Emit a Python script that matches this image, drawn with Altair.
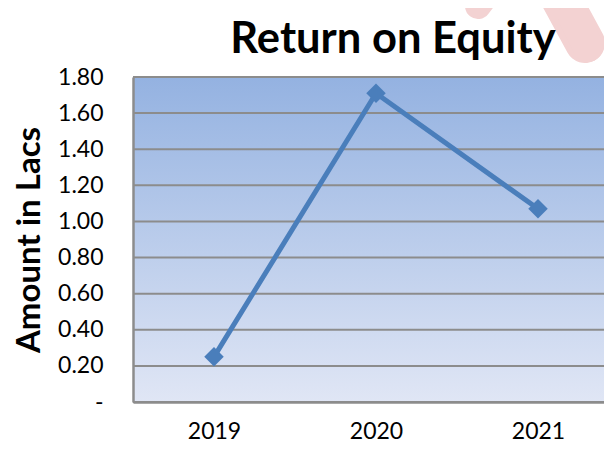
import altair as alt
import pandas as pd

years = ["2019", "2020", "2021"]
roe = [0.25, 1.71, 1.07]
y_ticks = [0.0, 0.2, 0.4, 0.6, 0.8, 1.0, 1.2, 1.4, 1.6, 1.8]
title_text = "Return on Equity"

W, H = 471, 325
FONT = "Lato"
GRID = "#8c8c8c"

df = pd.DataFrame({"year": years, "value": roe})
grid_df = pd.DataFrame({"t": y_ticks})

y_scale = alt.Scale(domain=[0, 1.8], nice=False, zero=True)

y_axis = alt.Axis(title="Amount in Lacs", values=y_ticks,
                  labelExpr="datum.value == 0 ? '-\u00a0\u00a0' : format(datum.value, '.2f')",
                  labelFontSize=23, labelFont=FONT, labelColor="#000000",
                  labelPadding=30, ticks=False, domain=True,
                  domainColor=GRID, domainWidth=2.5, grid=False, zindex=1,
                  titleFont=FONT, titleFontSize=33, titleFontWeight="bold",
                  titleColor="#000000", titleX=-104, titleY=H / 2,
                  titleBaseline="middle", titleAngle=-90, titleAlign="center")

x_enc = alt.X("year:O", scale=alt.Scale(range=[0, 486], padding=0.5),
              axis=alt.Axis(title=None, labelAngle=0, labelFontSize=23, labelFont=FONT,
                            labelColor="#000000", labelPadding=18, ticks=False,
                            domain=True, domainColor=GRID, domainWidth=2.5, zindex=1))
y_enc = alt.Y("value:Q", scale=y_scale, axis=y_axis, title="Amount in Lacs")

grad = alt.LinearGradient(
    gradient="linear",
    stops=[alt.GradientStop(color="#94b2e1", offset=0),
           alt.GradientStop(color="#e0e6f5", offset=1)],
    x1=0, x2=0, y1=0, y2=1,
)

one = alt.Data(values=[{"a": 1}])

bg = alt.Chart(one).mark_rect(fill=grad).encode(
    x=alt.value(0), x2=alt.value(W), y=alt.value(0), y2=alt.value(H)
)

grid = alt.Chart(grid_df).mark_rule(color=GRID, strokeWidth=2).encode(
    y=alt.Y("t:Q", scale=y_scale, axis=y_axis, title="Amount in Lacs")
)

deco1 = alt.Chart(one).mark_rule(
    color="#f3d2d2", strokeWidth=26, strokeCap="round"
).encode(x=alt.value(345), y=alt.value(-71), x2=alt.value(362), y2=alt.value(-93))
deco2 = alt.Chart(one).mark_rule(
    color="#f3d2d2", strokeWidth=40, strokeCap="round"
).encode(x=alt.value(420), y=alt.value(-93), x2=alt.value(452), y2=alt.value(-34))
deco3 = alt.Chart(one).mark_rule(
    color="#f3d2d2", strokeWidth=30, strokeCap="round"
).encode(x=alt.value(440), y=alt.value(-60), x2=alt.value(455), y2=alt.value(-30))

title = alt.Chart(one).mark_text(
    text=title_text, font=FONT, fontSize=43.5, fontWeight="bold", color="#000000",
    align="center", baseline="alphabetic"
).encode(x=alt.value(260), y=alt.value(-24))

base = alt.Chart(df).encode(x=x_enc, y=y_enc)
line = base.mark_line(color="#4a7ebb", strokeWidth=5)
pts = base.mark_point(shape="diamond", filled=True, size=380, color="#4a7ebb", opacity=1)

chart = alt.layer(deco1, deco2, deco3, title, bg, grid, line, pts).properties(
    width=W, height=H,
    padding={"left": 125, "top": 69, "right": 0, "bottom": 40},
    autosize=alt.AutoSizeParams(type="none"),
).configure_view(stroke=None).configure(background="#ffffff")

chart.save("out.html", embed_options={"renderer": "svg", "actions": False})
